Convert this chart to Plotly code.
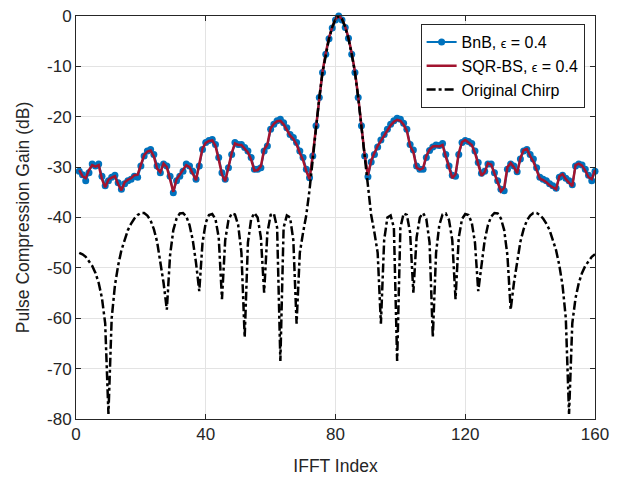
import plotly.graph_objects as go

idx = list(range(1, 161))

bnb = [
    -30.8, -31.5, -32.7, -31.1, -29.4, -29.8, -29.4, -31.8, -33.7, -32.7,
    -32.0, -31.6, -33.1, -34.4, -33.3, -32.7, -32.4, -31.8, -32.0, -29.8,
    -27.8, -26.8, -26.5, -27.5, -29.8, -31.1, -29.4, -29.8, -31.8, -35.1,
    -32.7, -31.8, -30.8, -29.4, -29.8, -30.8, -32.4, -29.8, -26.5, -25.1,
    -24.7, -24.5, -25.5, -28.1, -31.1, -32.4, -30.1, -27.5, -25.1, -25.5,
    -25.5, -26.1, -26.8, -28.1, -30.4, -30.4, -30.1, -26.8, -25.8, -22.5,
    -21.5, -20.8, -20.5, -21.2, -22.2, -23.5, -24.1, -25.1, -26.8, -28.1,
    -30.4, -32.1, -27.8, -21.8, -16.2, -11.2, -7.6, -4.5, -2.4, -0.8,
    0.0, -0.8, -2.3, -4.4, -7.6, -11.2, -16.2, -21.8, -27.8, -31.9,
    -29.0, -27.5, -26.0, -24.6, -23.5, -22.5, -21.5, -20.8, -20.3, -20.5,
    -21.3, -22.5, -25.5, -26.6, -29.8, -30.4, -30.4, -28.1, -26.7, -26.0,
    -25.6, -25.7, -25.3, -27.5, -29.8, -31.6, -31.8, -27.5, -25.1, -24.7,
    -24.9, -25.3, -26.8, -29.1, -31.2, -30.8, -29.4, -29.4, -31.1, -32.7,
    -34.4, -34.7, -30.4, -29.4, -29.8, -30.9, -28.4, -26.8, -26.5, -27.5,
    -28.4, -30.1, -32.0, -32.4, -32.7, -33.3, -33.7, -34.2, -32.0, -31.6,
    -32.2, -32.7, -33.5, -29.8, -29.4, -29.6, -30.4, -31.6, -32.7, -30.8,
]

sqrbs = [
    -30.6, -31.8, -32.2, -30.6, -29.6, -29.9, -29.6, -32.4, -34.0, -32.5,
    -32.1, -31.8, -33.4, -34.6, -33.0, -32.5, -32.2, -31.6, -31.5, -29.5,
    -27.6, -26.9, -26.7, -27.9, -30.3, -31.0, -29.3, -30.0, -32.3, -34.9,
    -32.4, -31.5, -30.5, -29.6, -30.0, -31.2, -32.6, -29.4, -26.3, -25.2,
    -24.8, -24.7, -25.8, -28.5, -31.5, -32.8, -29.8, -27.2, -25.3, -25.6,
    -25.6, -26.3, -27.1, -28.5, -30.7, -30.6, -29.8, -26.5, -25.5, -22.3,
    -21.4, -20.9, -20.8, -21.5, -22.5, -23.7, -24.4, -25.5, -27.2, -28.6,
    -30.8, -32.4, -27.6, -21.6, -16.0, -11.0, -7.4, -4.3, -2.2, -0.6,
    0.0, -0.6, -2.1, -4.3, -7.4, -11.0, -16.0, -21.6, -27.6, -31.6,
    -28.7, -27.2, -25.8, -24.8, -23.7, -22.8, -21.7, -21.0, -20.6, -20.8,
    -21.6, -22.8, -25.8, -27.0, -30.1, -30.5, -30.2, -27.8, -26.5, -25.9,
    -25.8, -25.9, -25.6, -27.9, -30.3, -32.2, -31.4, -27.2, -25.0, -24.6,
    -25.1, -25.6, -27.2, -29.6, -31.7, -31.0, -29.2, -29.5, -31.4, -33.1,
    -34.8, -34.1, -30.0, -29.2, -30.0, -31.2, -28.2, -26.6, -26.4, -27.8,
    -28.9, -30.6, -32.3, -32.6, -33.0, -33.6, -34.0, -34.4, -31.8, -31.4,
    -32.4, -33.0, -33.8, -29.6, -29.3, -29.7, -30.7, -32.0, -32.4, -30.6,
]

chirp = [
    -47.0, -47.3, -47.8, -48.6, -49.6, -51.0, -53.0, -56.0, -61.0, -79.0,
    -60.0, -53.5, -49.5, -46.5, -44.3, -42.5, -41.2, -40.2, -39.5, -39.1,
    -39.1, -39.6, -40.6, -42.3, -44.8, -48.5, -53.0, -58.3, -47.5, -42.5,
    -40.2, -39.2, -39.1, -39.8, -41.5, -44.5, -49.0, -54.6, -45.0, -41.0,
    -39.5, -39.3, -40.3, -44.0, -56.2, -44.5, -40.5, -39.2, -39.4, -41.5,
    -47.0, -63.8, -45.0, -40.3, -39.1, -40.0, -44.0, -54.9, -43.0, -39.5,
    -39.2, -42.0, -68.5, -42.0, -39.6, -40.0, -44.5, -61.1, -47.0, -43.0,
    -39.5, -34.5, -28.0, -22.0, -16.2, -11.2, -7.6, -4.5, -2.2, -0.6,
    0.0, -0.6, -2.2, -4.5, -7.6, -11.2, -16.2, -22.0, -28.0, -34.5,
    -39.5, -43.0, -47.0, -61.1, -44.5, -40.0, -39.6, -42.0, -68.5, -42.0,
    -39.2, -39.5, -43.0, -54.9, -44.0, -40.0, -39.1, -40.3, -45.0, -63.8,
    -47.0, -41.5, -39.4, -39.2, -40.5, -44.5, -56.2, -44.0, -40.3, -39.3,
    -39.5, -41.0, -45.0, -54.6, -49.0, -44.5, -41.5, -39.8, -39.1, -39.2,
    -40.2, -42.5, -47.5, -58.3, -53.0, -48.5, -44.8, -42.3, -40.6, -39.6,
    -39.1, -39.1, -39.5, -40.2, -41.2, -42.5, -44.3, -46.5, -49.5, -53.5,
    -60.0, -79.0, -61.0, -56.0, -53.0, -51.0, -49.6, -48.6, -47.8, -47.3,
]

x_ticks = [0, 40, 80, 120, 160]
y_ticks = [0, -10, -20, -30, -40, -50, -60, -70, -80]

FONT = "Liberation Sans, Arial, sans-serif"
eps = "<span style='font-size:12.5px'>ϵ</span>"

fig = go.Figure()
fig.add_trace(go.Scatter(
    x=idx, y=bnb, mode="lines+markers", name=f"BnB, {eps} = 0.4",
    line=dict(color="#0072BD", width=2),
    marker=dict(color="#0072BD", size=7, symbol="circle"),
    cliponaxis=False,
))
fig.add_trace(go.Scatter(
    x=idx, y=sqrbs, mode="lines", name=f"SQR-BS, {eps} = 0.4",
    line=dict(color="#A2142F", width=2.5),
))
fig.add_trace(go.Scatter(
    x=idx, y=chirp, mode="lines", name="Original Chirp",
    line=dict(color="black", width=2.5, dash="dashdot"),
))

axis_common = dict(
    showgrid=True, gridcolor="#e3e3e3", gridwidth=1,
    showline=True, linecolor="#262626", linewidth=1, mirror="ticks",
    ticks="inside", ticklen=5, tickcolor="#262626",
    tickfont=dict(family=FONT, size=17, color="#262626"),
    zeroline=False, automargin=False, ticklabeloverflow="allow",
)

fig.update_xaxes(
    range=[0, 160], tickvals=x_ticks, ticktext=[str(v) for v in x_ticks],
    title=dict(text="IFFT Index", font=dict(family=FONT, size=17.5, color="#262626"), standoff=16),
    **axis_common,
)
fig.update_yaxes(
    range=[-80, 0], tickvals=y_ticks, ticktext=[str(v) for v in y_ticks],
    title=dict(text="Pulse Compression Gain (dB)", font=dict(family=FONT, size=17.5, color="#262626"), standoff=12),
    **axis_common,
)

fig.update_layout(
    width=620, height=481,
    margin=dict(l=68, r=33, t=8, b=70),
    plot_bgcolor="white", paper_bgcolor="white",
    font=dict(family=FONT, color="#262626"),
    legend=dict(
        x=0.98, y=0.98, xanchor="right", yanchor="top",
        bgcolor="white", bordercolor="#262626", borderwidth=1,
        font=dict(family=FONT, size=16, color="black"),
        tracegroupgap=0, itemwidth=30,
    ),
    showlegend=True,
)

fig.write_html("out.html")
